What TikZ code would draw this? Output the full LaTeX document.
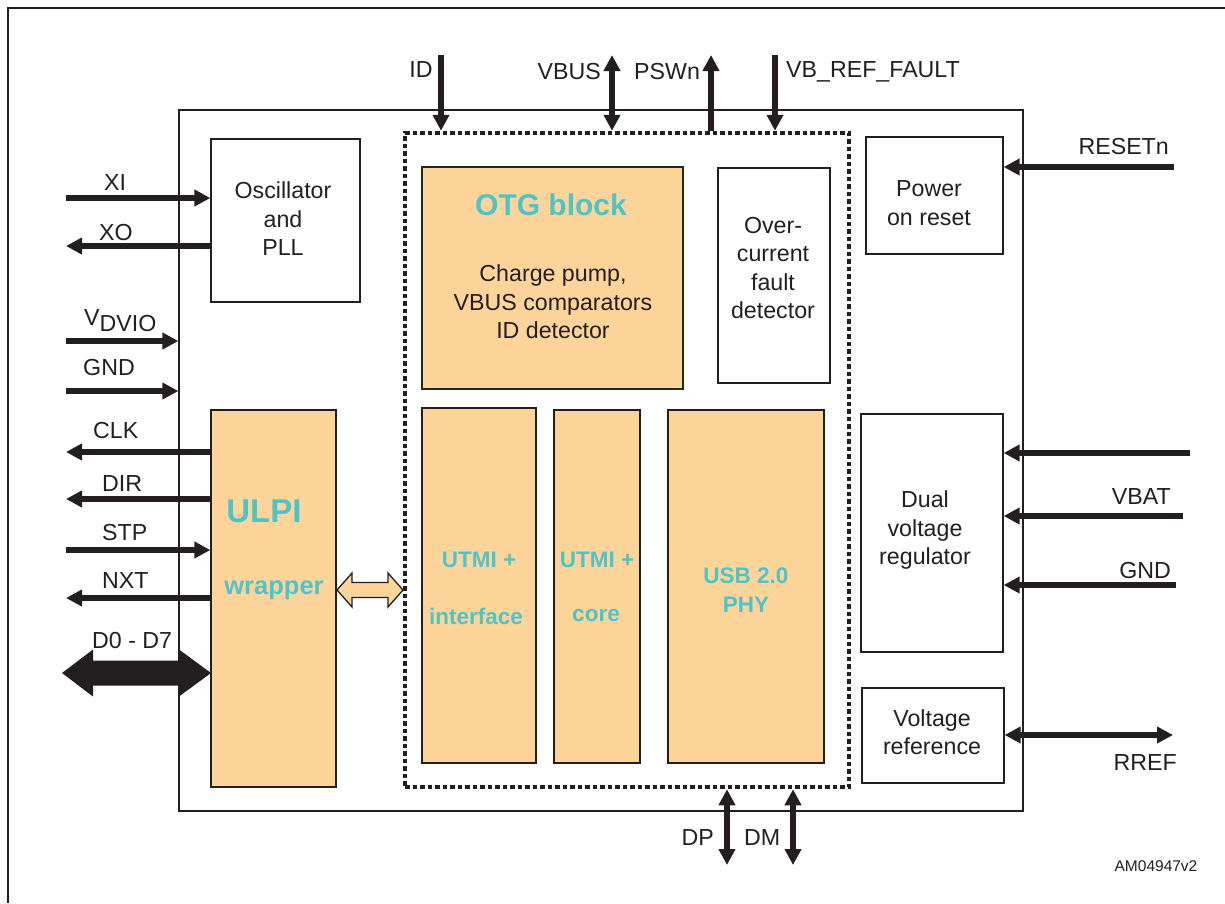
\documentclass[tikz,border=0pt]{standalone}
\usepackage{fontspec}
\setmainfont{Liberation Sans}
\usetikzlibrary{arrows.meta}
\definecolor{peach}{RGB}{253,212,154}
\definecolor{tealtxt}{RGB}{78,196,200}
\definecolor{otgedge}{RGB}{28,44,28}
\definecolor{ink}{RGB}{35,31,32}
\newcommand{\myfs}{\fontsize{23.2}{28.5}\selectfont}
\begin{document}
\begin{tikzpicture}[x=1pt,y=-1pt,
  every node/.style={text=ink},
  box/.style={draw=ink, line width=1.3pt, inner sep=0pt, align=center, font=\myfs},
  obox/.style={box, fill=peach},
  lbl/.style={inner sep=0pt, font=\myfs},
  tlbl/.style={inner sep=0pt, font=\bfseries\fontsize{22.5}{28.5}\selectfont, text=tealtxt, align=center},
  sig/.style={draw=ink, line width=5.5pt, -{Triangle[length=16pt,width=16pt]}},
  dsig/.style={draw=ink, line width=5.5pt, {Triangle[length=16pt,width=16pt]}-{Triangle[length=16pt,width=16pt]}}
]
\useasboundingbox (0,0) rectangle (1225,903);
% outer figure frame (cut)
\draw[ink, line width=2.2pt] (8,903) -- (8,8) -- (1225,8);

% chip outline
\node[box, minimum width=844pt, minimum height=701pt] (chip) at (601,460.5) {};
% dotted OTG area
\node[draw=ink, line width=4.5pt, dash pattern=on 4.5pt off 3pt, minimum width=444pt, minimum height=654pt, inner sep=0pt] (dot) at (627,460) {};

% blocks
\node[box, minimum width=149pt, minimum height=163pt] (osc) at (285.5,220.5) {};
\node[lbl, align=center] (osct) at (283,219) {Oscillator\\and\\PLL};

\node[obox, draw=otgedge, line width=2pt, minimum width=261pt, minimum height=222pt] (otg) at (552.5,278) {};
\node[inner sep=0pt, font=\bfseries\fontsize{30}{34}\selectfont, text=tealtxt] (otgt) at (551,205) {OTG block};
\node[lbl, align=center] (otgb) at (553,302) {Charge pump,\\VBUS comparators\\ID detector};

\node[box, minimum width=112pt, minimum height=215pt] (oc) at (774,275.5) {};
\node[lbl, align=center] (oct) at (773,268) {Over-\\current\\fault\\detector};

\node[box, minimum width=137pt, minimum height=117pt] (por) at (934.5,195.5) {};
\node[lbl, align=center] (port) at (929,203) {Power\\on reset};

\node[obox, minimum width=125pt, minimum height=377pt] (ulpi) at (273.5,598.5) {};
\node[inner sep=0pt, font=\bfseries\fontsize{33}{36}\selectfont, text=tealtxt] (ulpit) at (264,511) {ULPI};
\node[inner sep=0pt, font=\bfseries\fontsize{25.5}{28}\selectfont, text=tealtxt] (wrapt) at (274,590) {wrapper};

\node[obox, minimum width=114pt, minimum height=355pt] (utmi) at (479,585.5) {};
\node[tlbl] (utmit1) at (479,560) {UTMI +};
\node[tlbl] (utmit2) at (476,616) {interface};

\node[obox, minimum width=86pt, minimum height=353pt] (core) at (597,586.5) {};
\node[tlbl] (coret1) at (597,560) {UTMI +};
\node[tlbl] (coret2) at (596,616) {core};

\node[obox, minimum width=156pt, minimum height=353pt] (phy) at (746,586.5) {};
\node[tlbl] (phyt) at (746,590) {USB 2.0\\PHY};

\node[box, minimum width=142pt, minimum height=238pt] (dvr) at (932,533) {};
\node[lbl, align=center] (dvrt) at (925,530) {Dual\\voltage\\regulator};

\node[box, minimum width=142pt, minimum height=95pt] (vref) at (933,735.5) {};
\node[lbl, align=center] (vreft) at (932,732) {Voltage\\reference};

% top signals
\coordinate (idS) at (441,55);
\coordinate (vbS) at (612,55);
\coordinate (psS) at (711,55);
\coordinate (vfS) at (775,55);
\draw[sig] (idS) -- (idS |- dot.north);
\draw[dsig] (vbS) -- (vbS |- dot.north);
\draw[sig] (psS |- dot.north) -- (psS);
\draw[sig] (vfS) -- (vfS |- dot.north);
\node[lbl] (idL) at (421,70) {ID};
\node[lbl, anchor=east] (vbL) at (601,72) {VBUS};
\node[lbl, anchor=west] (psL) at (634,72) {PSWn};
\node[lbl, anchor=west] (vfL) at (786,72) {VB\_REF\_FAULT};

% left signals
\coordinate (xiS) at (66,198);
\coordinate (xoS) at (66,246);
\coordinate (vdS) at (66,341);
\coordinate (gnS) at (66,391);
\coordinate (clS) at (66,452);
\coordinate (diS) at (66,499);
\coordinate (stS) at (66,550);
\coordinate (nxS) at (66,598);
\draw[sig] (xiS) -- (xiS -| osc.west);
\draw[sig] (xoS -| osc.west) -- (xoS);
\draw[sig] (vdS) -- (vdS -| chip.west);
\draw[sig] (gnS) -- (gnS -| chip.west);
\draw[sig] (clS -| ulpi.west) -- (clS);
\draw[sig] (diS -| ulpi.west) -- (diS);
\draw[sig] (stS) -- (stS -| ulpi.west);
\draw[sig] (nxS -| ulpi.west) -- (nxS);
\node[lbl] (xiL) at (115,183) {XI};
\node[lbl] (xoL) at (116,233) {XO};
\node[lbl, anchor=west] (vdL) at (84,321) {V\raisebox{-6pt}{DVIO}};
\node[lbl, anchor=west] (gnL) at (83,368) {GND};
\node[lbl, anchor=west] (clL) at (93,431) {CLK};
\node[lbl, anchor=west] (diL) at (102,484) {DIR};
\node[lbl, anchor=west] (stL) at (102,533) {STP};
\node[lbl, anchor=west] (nxL) at (102,581) {NXT};
\node[lbl, anchor=west] (dL) at (92,640) {D0 - D7};

% D0-D7 bus arrow
\fill[ink] (62,673) -- (93,649.5) -- (93,660.5) -- (179,660.5) -- (179,649.5) -- (211,673)
  -- (179,696.5) -- (179,685.5) -- (93,685.5) -- (93,696.5) -- cycle;
% internal hollow bus arrow
\filldraw[fill=peach, draw=ink, line width=1.3pt] (337,590) -- (352,573) -- (352,582.5) -- (388,582.5)
  -- (388,573) -- (403,590) -- (388,607) -- (388,597.5) -- (352,597.5) -- (352,607) -- cycle;

% right signals
\coordinate (rsS) at (1174,167);
\coordinate (r1S) at (1190,453);
\coordinate (vbtS) at (1183,516);
\coordinate (rgS) at (1176,585);
\coordinate (rrS) at (1173,735);
\draw[sig] (rsS) -- (rsS -| por.east);
\draw[sig] (r1S) -- (r1S -| dvr.east);
\draw[sig] (vbtS) -- (vbtS -| dvr.east);
\draw[sig] (rgS) -- (rgS -| dvr.east);
\draw[dsig] (rrS -| vref.east) -- (rrS);
\node[lbl, anchor=east] (rsL) at (1169,147) {RESETn};
\node[lbl, anchor=east] (vbtL) at (1171,497) {VBAT};
\node[lbl, anchor=east] (rgL) at (1171,571) {GND};
\node[lbl, anchor=east] (rrL) at (1177,763) {RREF};

% bottom signals
\coordinate (dpS) at (727,865);
\coordinate (dmS) at (793,865);
\draw[dsig] (dpS |- dot.south) -- (dpS);
\draw[dsig] (dmS |- dot.south) -- (dmS);
\node[lbl, anchor=east] (dpL) at (714,838) {DP};
\node[lbl, anchor=west] (dmL) at (744,838) {DM};

\node[inner sep=0pt, font=\fontsize{15.5}{18}\selectfont] (am) at (1156,866) {AM04947v2};
\end{tikzpicture}
\end{document}
